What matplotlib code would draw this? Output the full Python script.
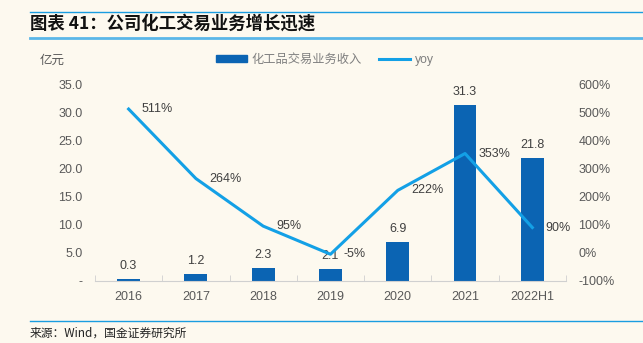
import numpy as np
import matplotlib; matplotlib.use('Agg')
import matplotlib.pyplot as plt
from matplotlib.lines import Line2D
from matplotlib.patches import Patch

plt.rcParams['font.family'] = ['Liberation Sans', 'Noto Sans CJK SC', 'DejaVu Sans']

categories = ['2016', '2017', '2018', '2019', '2020', '2021', '2022H1']
revenue = [0.3, 1.2, 2.3, 2.1, 6.9, 31.3, 21.8]
yoy = [511, 264, 95, -5, 222, 353, 90]
left_ticks = [0, 5, 10, 15, 20, 25, 30, 35]
right_ticks = [-100, 0, 100, 200, 300, 400, 500, 600]

bg = '#fdf9ef'
bar_color = '#0b64b3'
line_color = '#13a0e6'
tick_color = '#595959'
fs = 9

fig = plt.figure(figsize=(6.43, 3.43), dpi=100, facecolor=bg)
ax = fig.add_axes([0.1477, 0.1808, 0.7325, 0.5743], facecolor=bg)
ax2 = ax.twinx()

x = np.arange(len(categories))
ax.bar(x, revenue, width=0.34, color=bar_color, zorder=2)
for xi, v in zip(x, revenue):
    ax.annotate(f'{v:.1f}', (xi, v), xytext=(0, 5), textcoords='offset points',
                ha='center', va='bottom', fontsize=fs, color='#404040')

ax2.plot(x, yoy, color=line_color, lw=2.2, zorder=3)
for xi, v in zip(x, yoy):
    ax2.annotate(f'{v}%', (xi, v), xytext=(9.5, 0), textcoords='offset points',
                 ha='left', va='center', fontsize=fs, color='#404040')

ax.set_xlim(-0.5, len(categories) - 0.5)
ax.set_ylim(0, 35)
ax2.set_ylim(-100, 600)
ax.set_yticks(left_ticks)
ax.set_yticklabels(['-' if t == 0 else f'{t:.1f}' for t in left_ticks])
ax2.set_yticks(right_ticks)
ax2.set_yticklabels([f'{t}%' for t in right_ticks])
ax.set_xticks(x)
ax.set_xticklabels(categories)
ax.set_xticks(np.arange(len(categories) + 1) - 0.5, minor=True)

for a in (ax, ax2):
    for s in a.spines.values():
        s.set_visible(False)
ax.spines['bottom'].set_visible(True)
ax.spines['bottom'].set_color('#d0d0d0')
ax.tick_params(axis='x', which='major', length=0, pad=7, labelsize=fs, labelcolor=tick_color)
ax.tick_params(axis='x', which='minor', length=4, color='#d0d0d0', direction='in')
ax.tick_params(axis='y', length=0, pad=9, labelsize=fs, labelcolor=tick_color)
ax2.tick_params(axis='y', length=0, pad=9, labelsize=fs, labelcolor=tick_color)

fig.text(40 / 643, 1 - 61 / 343, '亿元', fontsize=fs, color=tick_color, va='center')

handles = [Patch(color=bar_color), Line2D([], [], color=line_color, lw=2.2)]
fig.legend(handles, ['化工品交易业务收入', 'yoy'], loc='center', ncol=2,
           bbox_to_anchor=(0.5054, 1 - 60 / 343), frameon=False, fontsize=8.8,
           labelcolor='#7f7f7f', handlelength=2.55, handleheight=0.45,
           columnspacing=1.4, handletextpad=0.4)

# header / footer
fig.add_artist(Line2D([30 / 643, 1], [1 - 12 / 343] * 2, color='#1a9de0', lw=1))
fig.add_artist(Line2D([30 / 643, 1], [1 - 38 / 343] * 2, color='#5ab6e8', lw=2))
fig.text(30 / 643, 1 - 24 / 343, '图表 41：公司化工交易业务增长迅速', fontsize=12.5,
         fontweight='bold', style='italic', va='center', color='#111111',
         family=['Noto Sans CJK SC', 'DejaVu Sans'])
fig.add_artist(Line2D([30 / 643, 1], [1 - 321 / 343] * 2, color='#1a9de0', lw=1))
fig.text(30 / 643, 1 - 333 / 343, '来源：Wind，国金证券研究所', fontsize=8.5,
         va='center', color='#222222', family=['Noto Sans CJK SC', 'DejaVu Sans'])

fig.savefig('out.png', dpi=100, facecolor=bg)
